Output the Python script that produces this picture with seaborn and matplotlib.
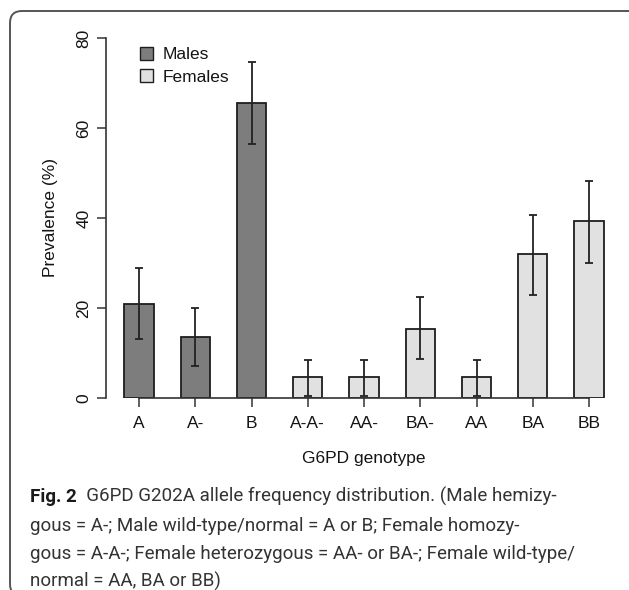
import numpy as np
import pandas as pd
import matplotlib
matplotlib.use("Agg")
import matplotlib.pyplot as plt
import seaborn as sns
from matplotlib.patches import FancyBboxPatch, Patch
from matplotlib.transforms import IdentityTransform

# ---------------- data ----------------
genotypes = ["A", "A-", "B", "A-A-", "AA-", "BA-", "AA", "BA", "BB"]
sex = ["Males", "Males", "Males", "Females", "Females", "Females", "Females", "Females", "Females"]
prevalence = [20.9, 13.6, 65.5, 4.6, 4.6, 15.4, 4.6, 32.0, 39.4]
ci_lower = [13.2, 7.2, 56.5, 0.4, 0.4, 8.7, 0.4, 23.0, 29.9]
ci_upper = [28.9, 20.1, 74.7, 8.4, 8.4, 22.4, 8.4, 40.7, 48.3]
y_ticks = [0, 20, 40, 60, 80]
legend_labels = ["Males", "Females"]
x_title = "G6PD genotype"
y_title = "Prevalence (%)"
caption_bold = "Fig. 2"
caption_lines = [
    "  G6PD G202A allele frequency distribution. (Male hemizy-",
    "gous = A-; Male wild-type/normal = A or B; Female homozy-",
    "gous = A-A-; Female heterozygous = AA- or BA-; Female wild-type/",
    "normal = AA, BA or BB)",
]

# ---------------- style ----------------
sns.set_theme(style="white")
plt.rcParams["font.family"] = ["Liberation Sans", "DejaVu Sans"]

W, H = 629, 590
fig = plt.figure(figsize=(W / 100, H / 100), dpi=100)
fig.patch.set_facecolor("white")

male_col = "#7d7d7d"
female_col = "#e1e1e1"
edge_col = "#1e1e1e"
axis_col = "#333333"

# axes placement (pixels)
ax_left, ax_right, ax_top, ax_bottom = 106, 620, 29, 398
ax = fig.add_axes([ax_left / W, 1 - ax_bottom / H,
                   (ax_right - ax_left) / W, (ax_bottom - ax_top) / H])

df = pd.DataFrame({"genotype": genotypes, "prevalence": prevalence, "sex": sex})
sns.barplot(data=df, x="genotype", y="prevalence", hue="sex", dodge=False,
            palette={"Males": male_col, "Females": female_col},
            edgecolor=edge_col, linewidth=1.3, width=0.52, errorbar=None,
            legend=False, ax=ax)

prev = np.array(prevalence)
ax.errorbar(np.arange(len(genotypes)), prev,
            yerr=[prev - np.array(ci_lower), np.array(ci_upper) - prev],
            fmt="none", ecolor="#222222", elinewidth=1.3, capsize=2.6, capthick=1.3,
            zorder=5)

spacing = 56.25
first_center = 139
ax.set_xlim((ax_left - first_center) / spacing, (ax_right - first_center) / spacing)
ax.set_ylim(0, 82)
ax.set_yticks(y_ticks)
ax.set_yticklabels([str(v) for v in y_ticks])
ax.set_xlabel("")
ax.set_ylabel("")

for s in ["top", "right"]:
    ax.spines[s].set_visible(False)
for s in ["left", "bottom"]:
    ax.spines[s].set_color(axis_col)
    ax.spines[s].set_linewidth(1.2)
ax.spines["left"].set_bounds(0, 80)
ax.spines["bottom"].set_bounds(0, len(genotypes) - 1)

ax.tick_params(axis="both", bottom=True, left=True, direction="out", length=6.5,
               width=1.1, color=axis_col, labelsize=12.5, labelcolor="#141414")
ax.tick_params(axis="y", pad=4)
ax.tick_params(axis="x", pad=6.5)
for lbl in ax.get_yticklabels():
    lbl.set_rotation(90)
    lbl.set_va("center")
ax.set_facecolor("white")

fig.text(50 / W, 1 - 218 / H, y_title, rotation=90, ha="center", va="center",
         fontsize=12.5, color="#141414")
fig.text(364 / W, 1 - 458 / H, x_title, ha="center", va="center",
         fontsize=12.5, color="#141414")

handles = [Patch(facecolor=male_col, edgecolor=edge_col, linewidth=1.0, label=legend_labels[0]),
           Patch(facecolor=female_col, edgecolor=edge_col, linewidth=1.0, label=legend_labels[1])]
fig.legend(handles=handles, loc="upper left", bbox_to_anchor=(140 / W, 1 - 47 / H),
           frameon=False, fontsize=12.5, handlelength=0.75, handleheight=0.75,
           handletextpad=0.55, labelspacing=0.4, borderpad=0, borderaxespad=0,
           labelcolor="#141414")

# ---------------- caption ----------------
cap_font = ["Roboto", "DejaVu Sans"]
x0 = 30
target_w = 557 - 30
fig.canvas.draw()
r = fig.canvas.get_renderer()
tb = fig.text(0, 0, caption_bold, fontsize=10, fontweight="bold", family=cap_font)
tr = fig.text(0, 0, caption_lines[0], fontsize=10, family=cap_font)
wb = tb.get_window_extent(r).width
wr = tr.get_window_extent(r).width
tb.remove(); tr.remove()
fs = 10 * target_w / (wb + wr)

baselines = [502, 531, 559, 587]
t0 = fig.text(x0 / W, 1 - baselines[0] / H, caption_bold, fontsize=fs,
              fontweight="bold", family=cap_font, va="baseline", color="#1a1a1a")
wb = t0.get_window_extent(r).width
fig.text((x0 + wb) / W, 1 - baselines[0] / H, caption_lines[0], fontsize=fs,
         family=cap_font, va="baseline", color="#333333")
for line, yb in zip(caption_lines[1:], baselines[1:]):
    fig.text(x0 / W, 1 - yb / H, line, fontsize=fs, family=cap_font,
             va="baseline", color="#333333")

# ---------------- border ----------------
box = FancyBboxPatch((10, H - 596), 632, 585,
                     boxstyle="round,pad=0,rounding_size=12",
                     facecolor="none", edgecolor="#555555", linewidth=1.4,
                     transform=IdentityTransform())
fig.add_artist(box)

fig.savefig("out.png", dpi=100)
